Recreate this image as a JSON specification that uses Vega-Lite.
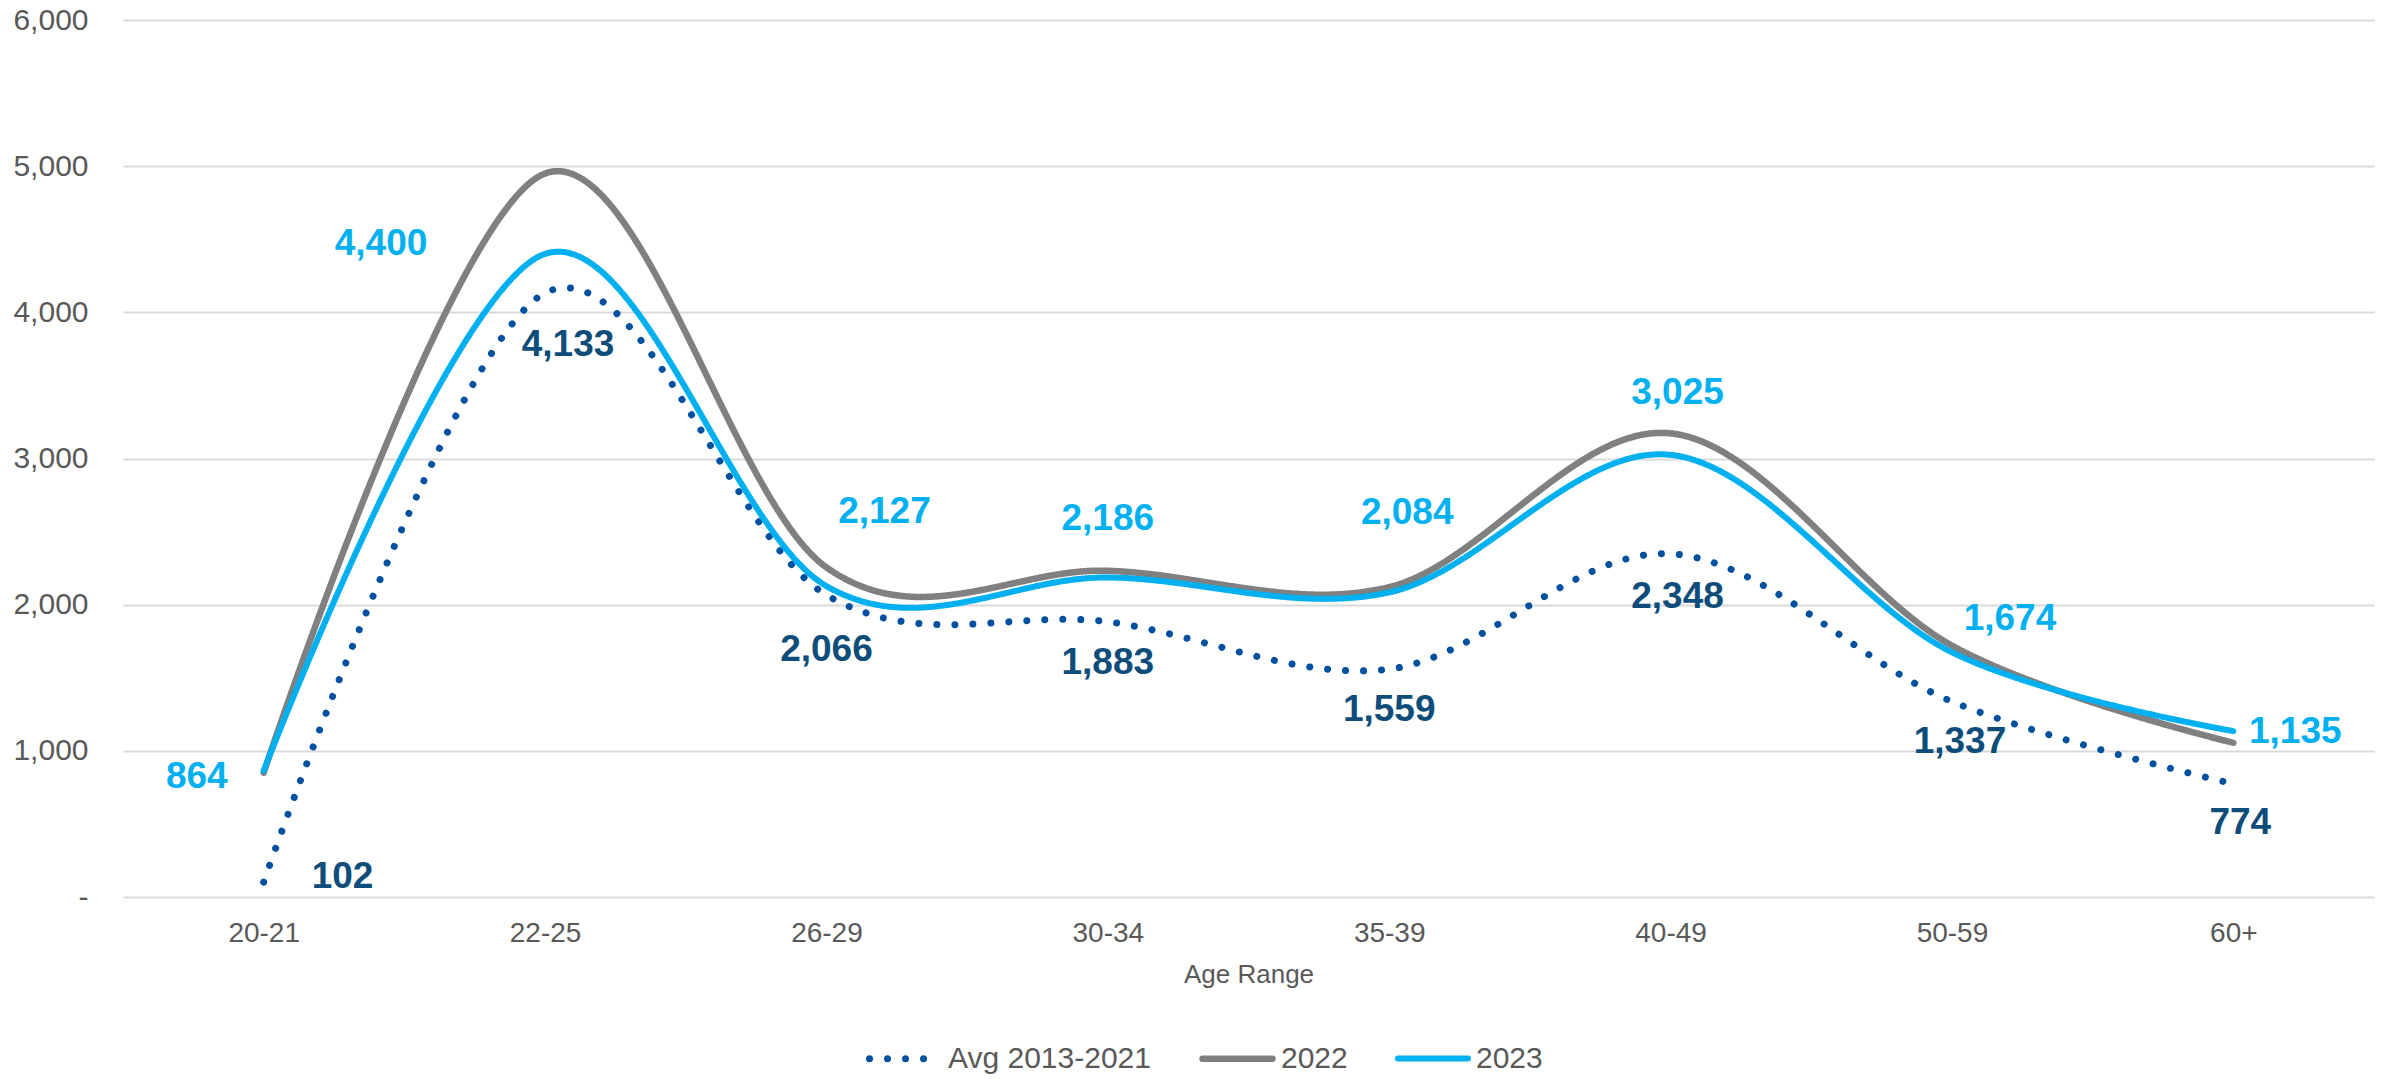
{
  "$schema": "https://vega.github.io/schema/vega-lite/v6.json",
  "autosize": {"type": "none"},
  "width": 2251,
  "height": 877,
  "padding": {"left": 123, "top": 20, "right": 16, "bottom": 182},
  "background": "white",
  "config": {
    "font": "Liberation Sans",
    "view": {"stroke": null},
    "axis": {"labelFont": "Liberation Sans", "titleFont": "Liberation Sans"},
    "legend": {"labelFont": "Liberation Sans"}
  },
  "data": {
    "values": [
      {"age": "20-21", "series": "Avg 2013-2021", "value": 102},
      {"age": "22-25", "series": "Avg 2013-2021", "value": 4133},
      {"age": "26-29", "series": "Avg 2013-2021", "value": 2066},
      {"age": "30-34", "series": "Avg 2013-2021", "value": 1883},
      {"age": "35-39", "series": "Avg 2013-2021", "value": 1559},
      {"age": "40-49", "series": "Avg 2013-2021", "value": 2348},
      {"age": "50-59", "series": "Avg 2013-2021", "value": 1337},
      {"age": "60+", "series": "Avg 2013-2021", "value": 774},
      {"age": "20-21", "series": "2022", "value": 850},
      {"age": "22-25", "series": "2022", "value": 4950},
      {"age": "26-29", "series": "2022", "value": 2255},
      {"age": "30-34", "series": "2022", "value": 2232},
      {"age": "35-39", "series": "2022", "value": 2120},
      {"age": "40-49", "series": "2022", "value": 3172},
      {"age": "50-59", "series": "2022", "value": 1720},
      {"age": "60+", "series": "2022", "value": 1055},
      {"age": "20-21", "series": "2023", "value": 864},
      {"age": "22-25", "series": "2023", "value": 4400},
      {"age": "26-29", "series": "2023", "value": 2127},
      {"age": "30-34", "series": "2023", "value": 2186},
      {"age": "35-39", "series": "2023", "value": 2084},
      {"age": "40-49", "series": "2023", "value": 3025},
      {"age": "50-59", "series": "2023", "value": 1674},
      {"age": "60+", "series": "2023", "value": 1135}
    ]
  },
  "encoding": {
    "x": {
      "field": "age", "type": "ordinal",
      "sort": ["20-21", "22-25", "26-29", "30-34", "35-39", "40-49", "50-59", "60+"],
      "scale": {"type": "point", "padding": 0.5},
      "axis": {
        "title": "Age Range", "labelAngle": 0, "grid": false, "domain": false, "ticks": false,
        "labelFontSize": 28, "labelColor": "#595959", "labelPadding": 22,
        "titleFontSize": 26, "titleColor": "#595959", "titleFontWeight": "normal", "titlePadding": 14
      }
    },
    "y": {
      "field": "value", "type": "quantitative",
      "scale": {"domain": [0, 6000], "nice": false},
      "axis": {
        "title": null, "values": [0, 1000, 2000, 3000, 4000, 5000, 6000],
        "labelExpr": "datum.value == 0 ? '-\u00a0\u00a0\u00a0' : format(datum.value, ',')",
        "domain": false, "ticks": false, "labelPadding": 35,
        "labelFontSize": 30, "labelColor": "#595959",
        "gridColor": "#D9D9D9", "gridWidth": 2
      }
    }
  },
  "layer": [
    {
      "mark": {"type": "line", "interpolate": "cardinal", "tension": 0, "strokeCap": "round", "strokeJoin": "round"},
      "encoding": {
        "color": {
          "field": "series", "type": "nominal",
          "scale": {"domain": ["Avg 2013-2021", "2022", "2023"], "range": ["#0050A0", "#808080", "#00B0F0"]},
          "legend": {
            "title": null, "orient": "none", "direction": "horizontal",
            "legendX": 743, "legendY": 1000,
            "labelFontSize": 30, "labelColor": "#595959", "labelOffset": 5, "labelLimit": 0,
            "symbolType": "stroke", "symbolSize": 4900, "symbolStrokeWidth": 7,
            "columnPadding": 38,
            "encode": {"symbols": {"update": {"strokeCap": {"value": "round"}}}}
          }
        },
        "strokeDash": {
          "field": "series", "type": "nominal",
          "scale": {"domain": ["Avg 2013-2021", "2022", "2023"], "range": [[0.01, 18], [1, 0], [1, 0]]},
          "legend": null
        },
        "strokeWidth": {
          "field": "series", "type": "nominal",
          "scale": {"domain": ["Avg 2013-2021", "2022", "2023"], "range": [7, 6, 6]},
          "legend": null
        },
        "order": {"field": "age", "type": "ordinal"}
      }
    },
    {
      "transform": [{"filter": "datum.series == '2023' && datum.age == '20-21'"}],
      "mark": {"type": "text", "align": "right", "baseline": "middle", "dx": -36, "dy": 6, "fontSize": 37, "fontWeight": "bold", "color": "#00B0F0"},
      "encoding": {"text": {"field": "value", "type": "quantitative", "format": ","}}
    },
    {
      "transform": [{"filter": "datum.series == 'Avg 2013-2021' && datum.age == '20-21'"}],
      "mark": {"type": "text", "align": "left", "baseline": "middle", "dx": 48, "dy": -5, "fontSize": 37, "fontWeight": "bold", "color": "#0E4D7A"},
      "encoding": {"text": {"field": "value", "type": "quantitative", "format": ","}}
    },
    {
      "transform": [{"filter": "datum.series == '2023' && datum.age == '22-25'"}],
      "mark": {"type": "text", "align": "center", "baseline": "middle", "dx": -164, "dy": -10, "fontSize": 37, "fontWeight": "bold", "color": "#00B0F0"},
      "encoding": {"text": {"field": "value", "type": "quantitative", "format": ","}}
    },
    {
      "transform": [{"filter": "datum.series == 'Avg 2013-2021' && datum.age == '22-25'"}],
      "mark": {"type": "text", "align": "center", "baseline": "middle", "dx": 23, "dy": 52, "fontSize": 37, "fontWeight": "bold", "color": "#0E4D7A"},
      "encoding": {"text": {"field": "value", "type": "quantitative", "format": ","}}
    },
    {
      "transform": [{"filter": "datum.series == '2023' && datum.age == '26-29'"}],
      "mark": {"type": "text", "align": "center", "baseline": "middle", "dx": 58, "dy": -74, "fontSize": 37, "fontWeight": "bold", "color": "#00B0F0"},
      "encoding": {"text": {"field": "value", "type": "quantitative", "format": ","}}
    },
    {
      "transform": [{"filter": "datum.series == 'Avg 2013-2021' && datum.age == '26-29'"}],
      "mark": {"type": "text", "align": "center", "baseline": "middle", "dx": 0, "dy": 55, "fontSize": 37, "fontWeight": "bold", "color": "#0E4D7A"},
      "encoding": {"text": {"field": "value", "type": "quantitative", "format": ","}}
    },
    {
      "transform": [{"filter": "datum.series == '2023' && datum.age == '30-34'"}],
      "mark": {"type": "text", "align": "center", "baseline": "middle", "dx": 0, "dy": -58, "fontSize": 37, "fontWeight": "bold", "color": "#00B0F0"},
      "encoding": {"text": {"field": "value", "type": "quantitative", "format": ","}}
    },
    {
      "transform": [{"filter": "datum.series == '2023' && datum.age == '40-49'"}],
      "mark": {"type": "text", "align": "center", "baseline": "middle", "dx": 7, "dy": -62, "fontSize": 37, "fontWeight": "bold", "color": "#00B0F0"},
      "encoding": {"text": {"field": "value", "type": "quantitative", "format": ","}}
    },
    {
      "transform": [{"filter": "datum.series == 'Avg 2013-2021' && (datum.age == '30-34' || datum.age == '35-39')"}],
      "mark": {"type": "text", "align": "center", "baseline": "middle", "dx": 0, "dy": 41, "fontSize": 37, "fontWeight": "bold", "color": "#0E4D7A"},
      "encoding": {"text": {"field": "value", "type": "quantitative", "format": ","}}
    },
    {
      "transform": [{"filter": "datum.series == 'Avg 2013-2021' && datum.age == '40-49'"}],
      "mark": {"type": "text", "align": "center", "baseline": "middle", "dx": 7, "dy": 43, "fontSize": 37, "fontWeight": "bold", "color": "#0E4D7A"},
      "encoding": {"text": {"field": "value", "type": "quantitative", "format": ","}}
    },
    {
      "transform": [{"filter": "datum.series == '2023' && datum.age == '35-39'"}],
      "mark": {"type": "text", "align": "center", "baseline": "middle", "dx": 18, "dy": -79, "fontSize": 37, "fontWeight": "bold", "color": "#00B0F0"},
      "encoding": {"text": {"field": "value", "type": "quantitative", "format": ","}}
    },
    {
      "transform": [{"filter": "datum.series == '2023' && datum.age == '50-59'"}],
      "mark": {"type": "text", "align": "center", "baseline": "middle", "dx": 58, "dy": -33, "fontSize": 37, "fontWeight": "bold", "color": "#00B0F0"},
      "encoding": {"text": {"field": "value", "type": "quantitative", "format": ","}}
    },
    {
      "transform": [{"filter": "datum.series == 'Avg 2013-2021' && datum.age == '50-59'"}],
      "mark": {"type": "text", "align": "center", "baseline": "middle", "dx": 8, "dy": 40, "fontSize": 37, "fontWeight": "bold", "color": "#0E4D7A"},
      "encoding": {"text": {"field": "value", "type": "quantitative", "format": ","}}
    },
    {
      "transform": [{"filter": "datum.series == '2023' && datum.age == '60+'"}],
      "mark": {"type": "text", "align": "center", "baseline": "middle", "dx": 62, "dy": 1, "fontSize": 37, "fontWeight": "bold", "color": "#00B0F0"},
      "encoding": {"text": {"field": "value", "type": "quantitative", "format": ","}}
    },
    {
      "transform": [{"filter": "datum.series == 'Avg 2013-2021' && datum.age == '60+'"}],
      "mark": {"type": "text", "align": "center", "baseline": "middle", "dx": 7, "dy": 39, "fontSize": 37, "fontWeight": "bold", "color": "#0E4D7A"},
      "encoding": {"text": {"field": "value", "type": "quantitative", "format": ","}}
    }
  ]
}
